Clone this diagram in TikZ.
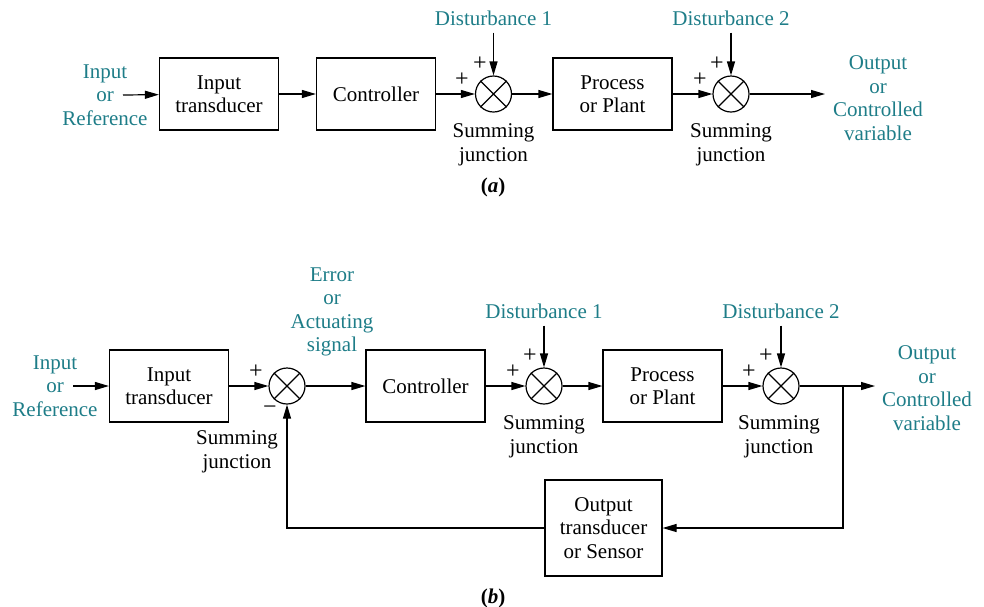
\documentclass[tikz,border=0pt]{standalone}
\usepackage{fontspec}
\setmainfont{Liberation Serif}
\definecolor{cbTeal}{HTML}{1E7D88}
\usetikzlibrary{arrows.meta,positioning}

\tikzset{
  blk/.style={draw, line width=1.2pt, minimum width=119pt, minimum height=72pt, inner sep=0pt, align=center},
  sumjn/.style={draw, circle, line width=1.2pt, minimum size=36pt, inner sep=0pt},
  sig/.style={text=cbTeal, align=center},
  lbl/.style={align=center},
  sgn/.style={font=\fontsize{24}{26}\selectfont, inner sep=0pt},
  conn/.style={line width=1.2pt, -{Triangle[length=14pt,width=8pt]}},
  wire/.style={line width=1.2pt}
}

\begin{document}
\begin{tikzpicture}[x=1pt, y=-1pt, font=\fontsize{21}{23.5}\selectfont]
  \useasboundingbox (0,0) rectangle (984,606);

  % (a) open loop
  \node[sig] (inTxtA) at (105,95) {Input\\or\\Reference};
  \coordinate (inA) at (123,95);
  \node[blk] (itA) at (219,94) {Input\\transducer};
  \node[blk] (ctA) at (376,94) {Controller};
  \node[sumjn] (sA1) at (493.5,94) {};
  \node[blk] (plA) at (612.5,94) {Process\\or Plant};
  \node[sumjn] (sA2) at (731,94) {};
  \coordinate (outA) at (825,94);
  \node[sig] (outTxtA) at (878,98) {Output\\or\\Controlled\\variable};
  \node[sig, inner sep=7pt] (dA1) at (493.5,18) {Disturbance 1};
  \node[sig, inner sep=7pt] (dA2) at (731,18) {Disturbance 2};
  \node[lbl] (jA1) at (493.5,145) {Summing\\junction};
  \node[lbl] (jA2) at (731,145) {Summing\\junction};
  \node[sgn] at (462,80) {+};
  \node[sgn] at (480,64) {+};
  \node[sgn] at (700,80) {+};
  \node[sgn] at (717,64) {+};
  \node (capA) at (493,187) {\textbf{(\textit{a})}};

  \draw[conn] (inA) -- (itA);
  \draw[conn] (itA) -- (ctA);
  \draw[conn] (ctA) -- (sA1);
  \draw[conn] (sA1) -- (plA);
  \draw[conn] (plA) -- (sA2);
  \draw[conn] (sA2) -- (outA);
  \draw[conn] (dA1) -- (sA1);
  \draw[conn] (dA2) -- (sA2);

  % (b) closed loop
  \node[sig] (inTxtB) at (55,386) {Input\\or\\Reference};
  \coordinate (inB) at (73,386);
  \node[blk] (itB) at (169,386) {Input\\transducer};
  \node[sumjn] (sB1) at (287,386) {};
  \node[blk] (ctB) at (425.5,386) {Controller};
  \node[sumjn] (sB2) at (544,386) {};
  \node[blk] (plB) at (662.5,386) {Process\\or Plant};
  \node[sumjn] (sB3) at (781,386) {};
  \coordinate (brB) at (843,386);
  \coordinate (outB) at (875,386);
  \node[sig] (outTxtB) at (927,388) {Output\\or\\Controlled\\variable};
  \node[sig] (errTxt) at (332,312) {Error\\or\\Actuating\\signal};
  \node[sig, inner sep=7pt] (dB1) at (544,311) {Disturbance 1};
  \node[sig, inner sep=7pt] (dB2) at (781,311) {Disturbance 2};
  \node[lbl] (jB1) at (237,452) {Summing\\junction};
  \node[lbl] (jB2) at (544,437) {Summing\\junction};
  \node[lbl] (jB3) at (779,437) {Summing\\junction};
  \node[blk, minimum width=117pt, minimum height=96pt] (sensB) at (603.5,528) {Output\\transducer\\or Sensor};
  \node[sgn] at (256,372) {+};
  \node[sgn] at (270,410) {−};
  \node[sgn] at (513,372) {+};
  \node[sgn] at (530,356) {+};
  \node[sgn] at (749,372) {+};
  \node[sgn] at (766,356) {+};
  \node (capB) at (493,598) {\textbf{(\textit{b})}};

  \draw[conn] (inB) -- (itB);
  \draw[conn] (itB) -- (sB1);
  \draw[conn] (sB1) -- (ctB);
  \draw[conn] (ctB) -- (sB2);
  \draw[conn] (sB2) -- (plB);
  \draw[conn] (plB) -- (sB3);
  \draw[conn] (sB3) -- (outB);
  \draw[conn] (dB1) -- (sB2);
  \draw[conn] (dB2) -- (sB3);
  \draw[conn] (brB) |- (sensB);
  \draw[conn] (sensB.west) -| (sB1.south);

  % crosses in the summing junctions
  \foreach \s in {sA1,sA2,sB1,sB2,sB3}
    \draw[wire] (\s.north west) -- (\s.south east) (\s.north east) -- (\s.south west);
\end{tikzpicture}
\end{document}
